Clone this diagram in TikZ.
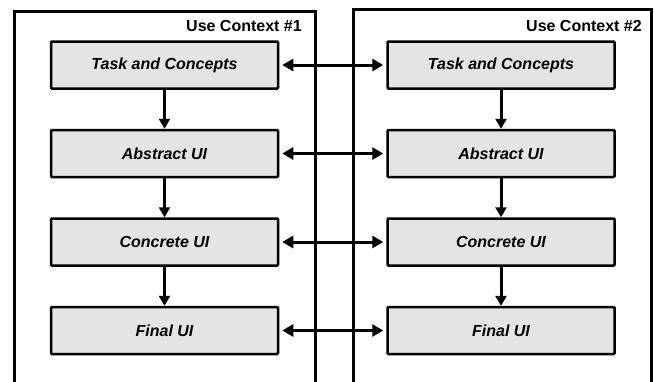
\documentclass[tikz,border=0pt]{standalone}
\usepackage{fontspec}
\setsansfont{Liberation Sans}
\usetikzlibrary{arrows.meta,positioning}
\definecolor{layerfill}{HTML}{E4E4E4}
\tikzset{
  ctxframe/.style={draw, line width=2.5pt, anchor=north west, inner sep=0pt,
                   minimum width=301pt, minimum height=420pt},
  ctxlbl/.style={font=\sffamily\bfseries\fontsize{16}{18}\selectfont,
                 anchor=base east, inner sep=0pt},
  layer/.style={draw, line width=2.5pt, fill=layerfill, rounded corners=1pt,
                minimum width=227pt, minimum height=47pt, inner sep=0pt,
                font=\sffamily\bfseries\itshape\fontsize{16}{18}\selectfont},
  refine/.style={-{Triangle[length=10pt,width=11pt]}, line width=3pt},
  mapping/.style={{Triangle[length=11pt,width=12pt]}-{Triangle[length=11pt,width=12pt]},
                  line width=3pt, shorten <=3pt, shorten >=3pt},
}

\begin{document}
\begin{tikzpicture}[x=1pt, y=-1pt, node distance=39pt and 107pt]
  \useasboundingbox (0,0) rectangle (654,381);
  \clip (0,0) rectangle (654,381);

  % the two use contexts (open at the bottom)
  \node[ctxframe] (ctx1) at (13,10) {};
  \node[ctxframe, minimum width=298pt] (ctx2) at (352,8) {};
  \node[ctxlbl] (lbl1) at (302,31.5) {Use Context \#1};
  \node[ctxlbl] (lbl2) at (642,31.5) {Use Context \#2};

  % levels, context 1
  \node[layer] (tc1) at (164.5,65) {Task and Concepts};
  \node[layer, below=of tc1] (aui1) {Abstract UI};
  \node[layer, below=of aui1] (cui1) {Concrete UI};
  \node[layer, below=of cui1] (fui1) {Final UI};

  % levels, context 2
  \node[layer, right=of tc1] (tc2) {Task and Concepts};
  \node[layer, right=of aui1] (aui2) {Abstract UI};
  \node[layer, right=of cui1] (cui2) {Concrete UI};
  \node[layer, right=of fui1] (fui2) {Final UI};

  % reification inside each context
  \foreach \a/\b in {tc/aui, aui/cui, cui/fui} {
    \draw[refine] (\a1) -- (\b1);
    \draw[refine] (\a2) -- (\b2);
  }

  % translation between contexts
  \foreach \r in {tc, aui, cui, fui}
    \draw[mapping] (\r1) -- (\r2);
\end{tikzpicture}
\end{document}
